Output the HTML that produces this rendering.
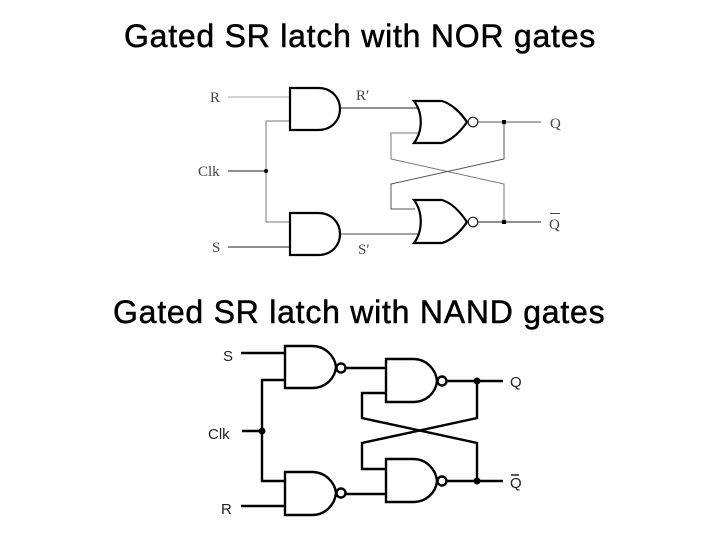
<!DOCTYPE html>
<html>
<head>
<meta charset="utf-8">
<style>
html,body{margin:0;padding:0;background:#fff}
svg{display:block}
.t{font-family:"Liberation Sans",sans-serif;font-size:32px;letter-spacing:.76px;fill:#000;stroke:#000;stroke-width:.5px}
.s{font-family:"Liberation Serif",serif;font-size:15px;fill:#444}
.a{font-family:"Liberation Sans",sans-serif;font-size:15px;fill:#222}
</style>
</head>
<body>
<svg width="720" height="540" viewBox="0 0 720 540" xmlns="http://www.w3.org/2000/svg">
<rect width="720" height="540" fill="#fff"/>
<text class="t" x="124" y="47">Gated SR latch with NOR gates</text>
<text class="t" x="113" y="323">Gated SR latch with NAND gates</text>

<!-- top wires -->
<g fill="none" stroke="#555" stroke-width="1">
<path d="M228 97H290" stroke="#aaa"/>
<path d="M290 121H266V222H290" stroke="#777"/>
<path d="M228 171H266" stroke="#222"/>
<path d="M228 247H290" stroke="#222"/>
<path d="M340 108H418" stroke="#222"/>
<path d="M340 234H418" stroke="#444"/>
<path d="M418 133H391V159L504 184V222" stroke="#777"/>
<path d="M415 209H391V184L504 159V122" stroke="#555"/>
<path d="M478 122H541" stroke="#555"/>
<path d="M478 222H541" stroke="#222"/>
</g>
<g fill="#000">
<circle cx="266" cy="171" r="2"/>
<rect x="502" y="120" width="4" height="4"/>
<rect x="502" y="220" width="4" height="4"/>
</g>
<!-- top gates -->
<g fill="#fff" stroke="#000" stroke-width="2.200">
<path d="M290 88H318C332 88 340 98 340 109C340 120 332 130 318 130H290Z"/>
<path d="M290 213H318C332 213 340 223 340 234C340 245 332 255 318 255H290Z"/>
<path d="M414 101H442C452 104 461 113 467 122C461 131 452 140 442 143H414C423 131 423 113 414 101Z"/>
<path d="M414 200H442C452 203 461 213 467 222C461 231 452 240 442 243H414C423 231 423 212 414 200Z"/>
</g>
<g fill="#fff" stroke="#222" stroke-width="1.200">
<circle cx="473" cy="122" r="4.800"/>
<circle cx="473" cy="222" r="4.800"/>
</g>
<text class="s" x="210" y="102">R</text>
<text class="s" x="198" y="176">Clk</text>
<text class="s" x="212" y="252">S</text>
<text class="s" x="356" y="100">R′</text>
<text class="s" x="358" y="254">S′</text>
<text class="s" x="550" y="128">Q</text>
<text class="s" x="549" y="229">Q</text>
<path d="M550 213.500H560" stroke="#444" stroke-width="1"/>

<!-- bottom wires -->
<g fill="none" stroke="#000" stroke-width="2.400">
<path d="M241 353H285"/>
<path d="M285 380H262V481H285"/>
<path d="M242 431H262"/>
<path d="M241 506H285"/>
<path d="M346 368H386"/>
<path d="M346 494H386"/>
<path d="M386 393H362V418L477 443V481"/>
<path d="M386 469H362V443L477 418V381"/>
<path d="M447 381H503"/>
<path d="M447 481H503"/>
</g>
<g fill="#000">
<circle cx="262" cy="431" r="3.500"/>
<circle cx="477" cy="381" r="3.500"/>
<circle cx="477" cy="481" r="3.500"/>
</g>
<!-- bottom gates -->
<g fill="#fff" stroke="#000" stroke-width="2.400">
<path d="M285 346H312C326 346 335 357 336 367C335 378 326 388 312 388H285Z"/>
<path d="M285 472H312C326 472 335 483 336 493C335 504 326 515 312 515H285Z"/>
<path d="M386 359H413C427 359 436 370 437 381C436 392 427 402 413 402H386Z"/>
<path d="M386 459H413C427 459 436 470 437 481C436 492 427 502 413 502H386Z"/>
<circle cx="341" cy="368" r="4.500"/>
<circle cx="341" cy="493" r="4.500"/>
<circle cx="442" cy="381" r="4.500"/>
<circle cx="442" cy="481" r="4.500"/>
</g>
<text class="a" x="223" y="361">S</text>
<text class="a" x="208" y="439">Clk</text>
<text class="a" x="221" y="514">R</text>
<text class="a" x="510" y="387">Q</text>
<text class="a" x="510" y="488">Q</text>
<path d="M511 475H519" stroke="#222" stroke-width="1.500"/>
</svg>
</body>
</html>
